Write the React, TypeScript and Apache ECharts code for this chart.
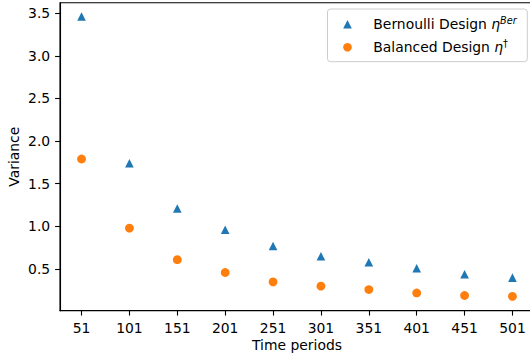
import React, { useEffect, useRef } from "react";
import * as echarts from "echarts";

const periods = [51, 101, 151, 201, 251, 301, 351, 401, 451, 501];
const bernoulliVar = [3.46, 1.74, 1.21, 0.96, 0.77, 0.65, 0.58, 0.51, 0.44, 0.40];
const balancedVar = [1.79, 0.98, 0.61, 0.46, 0.35, 0.30, 0.26, 0.22, 0.19, 0.18];
const yTicks = [0.5, 1.0, 1.5, 2.0, 2.5, 3.0, 3.5];
const xTicks = periods;

const FONT = "DejaVu Sans";
const FS = 13.9;
const BLUE = "#1f77b4";
const ORANGE = "#ff7f0e";

export default function App() {
  const ref = useRef<HTMLDivElement>(null);
  useEffect(() => {
    if (!ref.current) return;
    const chart = echarts.init(ref.current, null, { renderer: "svg" });
    const rich = {
      n: { fontFamily: FONT, fontSize: FS, fill: "#000", lineHeight: 18 },
      m: { fontFamily: FONT, fontSize: FS, fill: "#000", lineHeight: 18, fontStyle: "italic" },
      s: { fontFamily: FONT, fontSize: 9.7, fill: "#000", lineHeight: 10, verticalAlign: "top", fontStyle: "italic" },
      d: { fontFamily: FONT, fontSize: 9.7, fill: "#000", lineHeight: 10, verticalAlign: "top" },
    };
    const lx = 347.5;
    const r1 = 24.2;
    const r2 = 47.2;
    const tri = 4.3;
    chart.setOption({
      animation: false,
      backgroundColor: "#fff",
      textStyle: { fontFamily: FONT },
      grid: {
        left: 60,
        top: 2.7,
        width: 474,
        height: 308,
        show: true,
        borderColor: "#000",
        borderWidth: 1.1,
        backgroundColor: "transparent",
        containLabel: false,
        outerBoundsMode: "none",
      },
      xAxis: {
        type: "value",
        min: 28.5,
        max: 523.5,
        name: "Time periods",
        nameLocation: "middle",
        nameGap: 27.5,
        nameMoveOverlap: false,
        nameTextStyle: { fontFamily: FONT, fontSize: FS, color: "#000", verticalAlign: "top" },
        axisLine: { show: true, lineStyle: { color: "#000", width: 1.1 } },
        axisTick: { show: true, length: 4.9, lineStyle: { color: "#000", width: 1.1 }, customValues: xTicks },
        axisLabel: {
          fontFamily: FONT,
          fontSize: FS,
          color: "#000",
          margin: 9.8,
          customValues: xTicks,
          formatter: (v: number) => String(v),
        },
        splitLine: { show: false },
      },
      yAxis: {
        type: "value",
        min: 0.012,
        max: 3.622,
        name: "Variance",
        nameLocation: "middle",
        nameGap: 39,
        nameMoveOverlap: false,
        nameTextStyle: { fontFamily: FONT, fontSize: FS, color: "#000" },
        axisLine: { show: true, lineStyle: { color: "#000", width: 1.1 } },
        axisTick: { show: true, length: 4.9, lineStyle: { color: "#000", width: 1.1 }, customValues: yTicks },
        axisLabel: {
          fontFamily: FONT,
          fontSize: FS,
          color: "#000",
          margin: 9.8,
          customValues: yTicks,
          formatter: (v: number) => v.toFixed(1),
        },
        splitLine: { show: false },
      },
      series: [
        {
          name: "bernoulli",
          type: "scatter",
          symbol: "triangle",
          symbolSize: 8.6,
          itemStyle: { color: BLUE, opacity: 1 },
          data: periods.map((p, i) => [p, bernoulliVar[i]]),
        },
        {
          name: "balanced",
          type: "scatter",
          symbol: "circle",
          symbolSize: 8.8,
          itemStyle: { color: ORANGE, opacity: 1 },
          data: periods.map((p, i) => [p, balancedVar[i]]),
        },
      ],
      graphic: [
        {
          type: "rect",
          shape: { x: 327.5, y: 9, width: 199.8, height: 52.7, r: 3 },
          style: { fill: "rgba(255,255,255,0.8)", stroke: "#cccccc", lineWidth: 1 },
          z: 100,
        },
        {
          type: "polygon",
          shape: {
            points: [
              [lx, r1 - tri],
              [lx - tri, r1 + tri],
              [lx + tri, r1 + tri],
            ],
          },
          style: { fill: BLUE },
          z: 101,
        },
        {
          type: "circle",
          shape: { cx: lx, cy: r2, r: 4.3 },
          style: { fill: ORANGE },
          z: 101,
        },
        {
          type: "text",
          x: 373.3,
          y: r1,
          style: {
            text: "{n|Bernoulli Design }{m|η}{s|Ber}",
            verticalAlign: "middle",
            align: "left",
            rich,
          },
          z: 101,
        },
        {
          type: "text",
          x: 373.3,
          y: r2,
          style: {
            text: "{n|Balanced Design }{m|η}{d|†}",
            verticalAlign: "middle",
            align: "left",
            rich,
          },
          z: 101,
        },
      ],
    });
    return () => chart.dispose();
  }, []);
  return (
    <div
      ref={ref}
      style={{ position: "fixed", left: 0, top: 0, width: 530, height: 356, background: "#fff" }}
    />
  );
}
